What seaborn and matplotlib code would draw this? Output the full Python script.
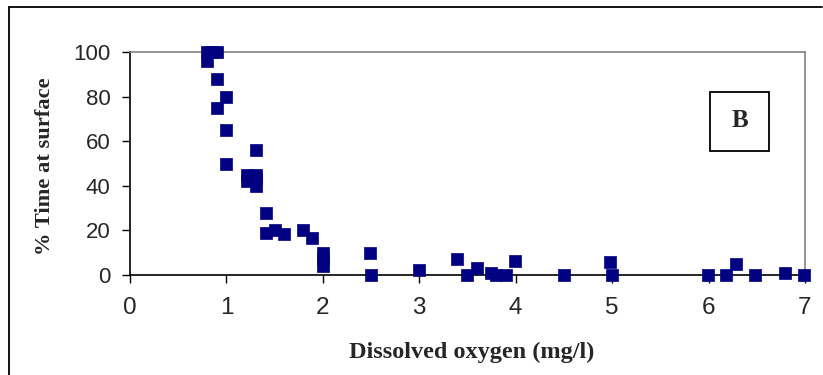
import matplotlib
matplotlib.use("Agg")
import matplotlib.pyplot as plt
import seaborn as sns
import pandas as pd
from matplotlib.lines import Line2D
from matplotlib.patches import Rectangle

# Data
oxygen = [0.80, 0.85, 0.90, 0.80, 0.90, 1.00, 0.90, 1.00, 1.31, 1.00,
          1.21, 1.31, 1.21, 1.31, 1.31, 1.41, 1.41, 1.50, 1.60, 1.79,
          1.89, 2.00, 2.00, 2.00, 2.49, 2.50, 3.00, 3.39, 3.50, 3.60,
          3.74, 3.80, 3.90, 3.99, 4.50, 4.98, 5.00, 5.99, 6.18, 6.28,
          6.48, 6.79, 6.99]
time_surface = [100, 100, 100, 96, 88, 80, 75, 65, 56, 50,
                45, 45, 42, 43, 40, 28, 19, 20, 18.5, 20,
                16.5, 10, 7, 4, 10, 0, 2.2, 7, 0, 3,
                0.7, 0, 0, 6.3, 0, 6, 0, 0, 0, 4.8,
                0, 0.8, 0]
x_ticks = [0, 1, 2, 3, 4, 5, 6, 7]
y_ticks = [0, 20, 40, 60, 80, 100]

df = pd.DataFrame({"oxygen": oxygen, "time": time_surface})

sns.set_style("white")
W, H = 823, 375
fig = plt.figure(figsize=(W / 100, H / 100), dpi=100)
ax = fig.add_axes([130 / W, 1 - 275 / H, (805 - 130) / W, (275 - 52) / H])

sns.scatterplot(data=df, x="oxygen", y="time", ax=ax, marker="s", s=85,
                color="#000080", edgecolor="#000080", linewidth=0.5,
                clip_on=False, zorder=3, legend=False)

ax.set_xlim(0, 7)
ax.set_ylim(0, 100)
ax.set_xticks(x_ticks)
ax.set_yticks(y_ticks)
ax.set_xticklabels([str(v) for v in x_ticks], fontfamily="Liberation Sans", fontsize=17.5)
ax.set_yticklabels([str(v) for v in y_ticks], fontfamily="Liberation Sans", fontsize=16)
ax.tick_params(axis="both", direction="out", length=6, width=1, color="black",
               bottom=True, left=True)
ax.tick_params(axis="x", pad=10)
ax.tick_params(axis="y", pad=8)

for side in ["left", "bottom"]:
    ax.spines[side].set_color("black")
    ax.spines[side].set_linewidth(1.2)
for side in ["top", "right"]:
    ax.spines[side].set_color("#808080")
    ax.spines[side].set_linewidth(1.2)

ax.set_xlabel("")
ax.set_ylabel("")
fig.text(472 / W, 1 - 352 / H, "Dissolved oxygen (mg/l)", ha="center", va="center",
         fontfamily="Liberation Serif", fontweight="bold", fontsize=17.5)
fig.text(45 / W, 1 - 166 / H, "% Time at surface", ha="center", va="center",
         rotation=90, fontfamily="Liberation Serif", fontweight="bold", fontsize=16.2)

# "B" box
fig.add_artist(Rectangle((710 / W, 1 - 151 / H), 59 / W, 59 / H,
                         transform=fig.transFigure, fill=False,
                         edgecolor="black", linewidth=1.3))
fig.text(739.5 / W, 1 - 120 / H, "B", ha="center", va="center",
         fontfamily="Liberation Serif", fontweight="bold", fontsize=18)

# outer frame lines
fig.add_artist(Line2D([9 / W, 9 / W], [0, 1 - 7 / H], transform=fig.transFigure,
                      color="black", linewidth=1.3))
fig.add_artist(Line2D([9 / W, 822 / W], [1 - 7 / H, 1 - 7 / H], transform=fig.transFigure,
                      color="black", linewidth=1.3))

fig.savefig("out.png", dpi=100, facecolor="white")
